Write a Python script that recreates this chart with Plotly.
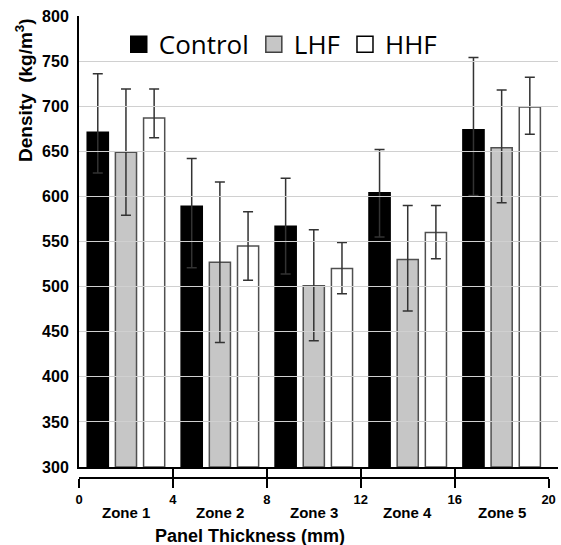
import plotly.graph_objects as go

zones = ["Zone 1", "Zone 2", "Zone 3", "Zone 4", "Zone 5"]
series = ["Control", "LHF", "HHF"]

control = [671, 589, 567, 604, 674]
control_hi = [736, 642, 620, 652, 754]
control_lo = [626, 521, 514, 555, 601]

lhf = [649, 527, 501, 530, 654]
lhf_hi = [719, 616, 563, 590, 718]
lhf_lo = [579, 438, 440, 473, 593]

hhf = [687, 545, 520, 560, 699]
hhf_hi = [719, 583, 549, 590, 732]
hhf_lo = [665, 507, 492, 531, 669]

x_ticks = [0, 4, 8, 12, 16, 20]

values = [control, lhf, hhf]
highs = [control_hi, lhf_hi, hhf_hi]
lows = [control_lo, lhf_lo, hhf_lo]

fills = ["#000000", "#c6c6c6", "#ffffff"]
borders = ["#000000", "#505050", "#505050"]

zone_w = 4.0
offsets = [0.8, 2.0, 3.2]
bar_w = 0.9

X_MAX = 20.4
fig = go.Figure()
for i, name in enumerate(series):
    xs = [k * zone_w + offsets[i] for k in range(len(zones))]
    fig.add_trace(go.Bar(
        x=xs, y=[v - 300 for v in values[i]], base=300, width=bar_w,
        marker=dict(color=fills[i], line=dict(color=borders[i], width=1.5)),
        error_y=dict(type="data", symmetric=False,
                     array=[h - v for h, v in zip(highs[i], values[i])],
                     arrayminus=[v - l for v, l in zip(values[i], lows[i])],
                     color="#333333", thickness=1.5, width=5),
        showlegend=False, name=name,
    ))
    fig.add_trace(go.Scatter(
        x=[None], y=[None], mode="markers", name=name,
        marker=dict(symbol="square", size=18, color=fills[i],
                    line=dict(color="#000000" if i != 1 else "#404040", width=1.5)),
    ))

H_PLOT = 474.0
ybot = (490 - 467) / H_PLOT
xpos = (490 - 478) / H_PLOT
x_dom = 20 / X_MAX

fig.update_layout(
    width=561, height=545,
    margin=dict(l=79, r=3, t=16, b=55, autoexpand=False),
    plot_bgcolor="rgba(0,0,0,0)", paper_bgcolor="white",
    barmode="overlay",
    font=dict(family="Liberation Sans, Arial, sans-serif", color="#000000"),
    xaxis=dict(range=[0, X_MAX], domain=[0, 1], showgrid=False, zeroline=False,
               showline=True, linecolor="#000000", linewidth=2, automargin=False,
               showticklabels=False, ticks="", anchor="y"),
    xaxis2=dict(range=[0, 20], domain=[0, x_dom],
                anchor="free", position=xpos, side="bottom", automargin=False,
                showline=True, linecolor="#000000", linewidth=2,
                tickvals=x_ticks, ticktext=["<b>%d</b>" % t for t in x_ticks],
                ticklabeloverflow="allow",
                ticks="outside", ticklen=9, tickwidth=2, tickcolor="#000000",
                tickfont=dict(size=13),
                showgrid=False, zeroline=False),
    xaxis3=dict(range=[0, 20], domain=[0, x_dom],
                anchor="free", position=xpos, side="bottom", automargin=False,
                showline=False, tickvals=x_ticks, ticks="inside", ticklen=11,
                tickwidth=2, tickcolor="#000000", showticklabels=False,
                showgrid=False, zeroline=False),
    yaxis=dict(range=[300, 800], domain=[ybot, 1], dtick=50, automargin=False,
               showgrid=True, gridcolor="#d0d0d0", gridwidth=1,
               showline=True, linecolor="#000000", linewidth=2,
               zeroline=False, ticks="", ticklabelstandoff=5,
               tickfont=dict(size=16), tickprefix="<b>", ticksuffix="</b>"),
    legend=dict(orientation="h", x=0.083, y=0.99, xanchor="left", yanchor="top",
                bgcolor="rgba(0,0,0,0)", font=dict(family="Open Sans", size=26),
                itemsizing="trace", itemwidth=30, tracegroupgap=0),
)

# invisible traces to activate the extra axes
fig.add_trace(go.Scatter(x=[None], y=[None], xaxis="x2", yaxis="y", showlegend=False))
fig.add_trace(go.Scatter(x=[None], y=[None], xaxis="x3", yaxis="y", showlegend=False))

for k, z in enumerate(zones):
    fig.add_annotation(x=k * zone_w + zone_w / 2, y=(490 - 512) / H_PLOT,
                       xref="x", yref="paper", text="<b>" + z + "</b>",
                       showarrow=False, font=dict(size=15), yanchor="middle")

fig.add_annotation(x=(250 - 79) / 479, y=(490 - 536) / H_PLOT, xref="paper", yref="paper",
                   text="<b>Panel Thickness (mm)</b>", showarrow=False,
                   font=dict(size=18), yanchor="middle", xanchor="center")
fig.add_annotation(x=(24 - 79) / 479, y=(490 - 90) / H_PLOT,
                   xref="paper", yref="paper",
                   text="<b>Density  (kg/m<sup>3</sup>)</b>", showarrow=False,
                   textangle=-90, font=dict(size=19), xanchor="center", yanchor="middle")

fig.write_html("out.html", config={"displayModeBar": False},
               post_script="document.body.style.margin='0';document.body.style.padding='0';")
